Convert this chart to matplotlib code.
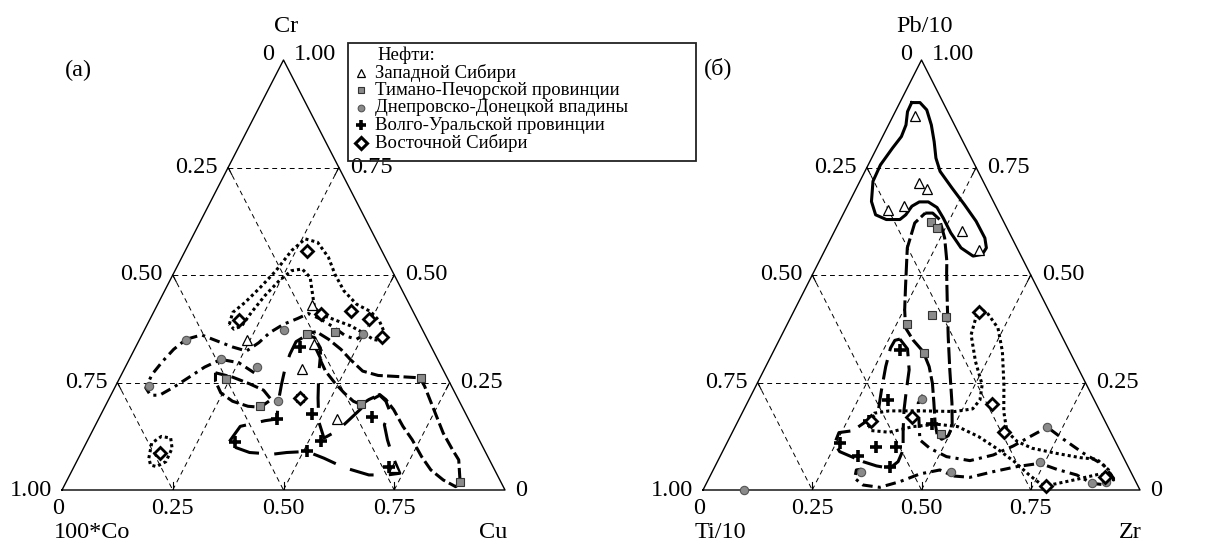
import matplotlib
matplotlib.use("Agg")
import matplotlib.pyplot as plt
from matplotlib.transforms import offset_copy
from matplotlib.patches import Rectangle

plt.rcParams['font.family'] = ['Liberation Serif', 'DejaVu Serif']

# ---- data: compositions as (bottom-right component, top component) ----
# (a) 100*Co - Cu - Cr : pairs are (Cu, Cr)
a_west = [(0.350, 0.430), (0.2435, 0.350), (0.399, 0.340), (0.401, 0.282), (0.539, 0.164), (0.722, 0.053)]
a_timan = [(0.372, 0.362), (0.433, 0.368), (0.241, 0.259), (0.349, 0.195), (0.574, 0.200), (0.679, 0.261),
           (0.890, 0.018), (0.430, 0.213)]
a_dnepr = [(0.314, 0.373), (0.499, 0.362), (0.105, 0.350), (0.206, 0.305), (0.297, 0.286), (0.077, 0.241),
           (0.385, 0.206)]
a_volga = [(0.370, 0.333), (0.475, 0.177), (0.4025, 0.165), (0.615, 0.169), (0.334, 0.111), (0.5275, 0.113),
           (0.507, 0.090), (0.7115, 0.053)]
a_east = [(0.275, 0.555), (0.202, 0.396), (0.379, 0.410), (0.443, 0.417), (0.495, 0.397), (0.545, 0.356),
          (0.430, 0.213), (0.178, 0.086)]

# (б) Ti/10 - Zr - Pb/10 : pairs are (Zr, Pb/10)
b_west = [(0.051, 0.870), (0.136, 0.715), (0.163, 0.700), (0.098, 0.652), (0.131, 0.660), (0.292, 0.603),
          (0.352, 0.559)]
b_timan = [(0.210, 0.6235), (0.231, 0.610), (0.274, 0.386), (0.320, 0.408), (0.355, 0.402), (0.347, 0.319),
           (0.479, 0.130)]
b_dnepr = [(0.395, 0.211), (0.342, 0.041), (0.545, 0.043), (0.740, 0.064), (0.715, 0.146), (0.882, 0.0155),
           (0.913, 0.019), (0.093, 0.0)]
b_volga = [(0.288, 0.3245), (0.319, 0.2096), (0.448, 0.154), (0.258, 0.110), (0.346, 0.101), (0.393, 0.099),
           (0.316, 0.078), (0.400, 0.054), (0.300, 0.161)]
b_east = [(0.424, 0.413), (0.562, 0.200), (0.620, 0.136), (0.780, 0.009), (0.393, 0.170), (0.303, 0.161),
          (0.906, 0.030)]

# ---- outlined fields ----
a_east_field = [(0.185, 0.3855), (0.179, 0.413), (0.195, 0.436), (0.212, 0.471), (0.228, 0.510), (0.240, 0.557),
                (0.257, 0.584), (0.289, 0.576), (0.331, 0.541), (0.365, 0.502), (0.405, 0.463), (0.449, 0.432),
                (0.489, 0.415), (0.520, 0.393), (0.545, 0.366), (0.547, 0.347), (0.528, 0.350), (0.496, 0.366),
                (0.460, 0.382), (0.426, 0.393), (0.384, 0.407), (0.358, 0.424), (0.333, 0.463), (0.313, 0.4945),
                (0.285, 0.514), (0.263, 0.510), (0.247, 0.487), (0.232, 0.452), (0.221, 0.413), (0.215, 0.3816),
                (0.201, 0.374)]
a_east_field2 = [(0.159, 0.074), (0.148, 0.109), (0.162, 0.1246), (0.185, 0.1207), (0.200, 0.097),
                 (0.2016, 0.066), (0.186, 0.0545), (0.171, 0.058)]
a_dnepr_line = [(0.2976, 0.2726), (0.251, 0.296), (0.207, 0.3037), (0.179, 0.2858), (0.156, 0.2625),
                (0.1325, 0.2391), (0.110, 0.2204), (0.0895, 0.2204), (0.0704, 0.2375), (0.0688, 0.2687),
                (0.0777, 0.2998), (0.0885, 0.3271), (0.105, 0.3505), (0.1347, 0.3606), (0.1767, 0.3466),
                (0.2187, 0.3326), (0.2548, 0.3232), (0.273, 0.3427), (0.286, 0.366), (0.3075, 0.3855),
                (0.3324, 0.3988), (0.351, 0.4104), (0.3857, 0.3972), (0.4226, 0.3793), (0.461, 0.3583),
                (0.4895, 0.3505), (0.500, 0.3598)]
a_timan_field = [(0.3647, 0.3621), (0.3896, 0.3684), (0.4265, 0.3505), (0.4661, 0.3271), (0.4988, 0.3037),
                 (0.5405, 0.2765), (0.5804, 0.2664), (0.638, 0.2632), (0.6775, 0.2609), (0.6978, 0.2414),
                 (0.746, 0.1869), (0.7943, 0.1324), (0.8348, 0.0935), (0.8605, 0.0701), (0.891, 0.0156),
                 (0.8846, 0.0078), (0.8488, 0.0234), (0.8092, 0.0467), (0.7726, 0.0779), (0.7322, 0.1168),
                 (0.6956, 0.148), (0.6552, 0.1869), (0.626, 0.2103), (0.6061, 0.222), (0.5875, 0.2103),
                 (0.5759, 0.1986), (0.5545, 0.2064), (0.5238, 0.2259), (0.4911, 0.2492), (0.4566, 0.2765),
                 (0.4344, 0.2998), (0.4174, 0.331), (0.3931, 0.3544)]
a_timan_field2 = [(0.2102, 0.2726), (0.2538, 0.2625), (0.300, 0.2469), (0.3389, 0.2321), (0.367, 0.2103),
                  (0.3517, 0.1924), (0.3225, 0.1947), (0.2818, 0.2064), (0.2455, 0.2259), (0.2199, 0.2531)]
a_volga_field = [(0.3215, 0.1129), (0.3284, 0.148), (0.3778, 0.1612), (0.4024, 0.1651), (0.3853, 0.2064),
                 (0.3728, 0.2453), (0.3617, 0.2843), (0.3566, 0.3154), (0.3558, 0.345), (0.3678, 0.3559),
                 (0.3955, 0.3427), (0.4291, 0.3076), (0.4451, 0.2687), (0.4709, 0.2142), (0.4996, 0.1597),
                 (0.531, 0.1207), (0.5534, 0.1386), (0.5751, 0.1791), (0.5895, 0.2064), (0.6069, 0.2204),
                 (0.6279, 0.2064), (0.652, 0.1791), (0.6517, 0.1519), (0.6762, 0.1168), (0.7042, 0.0818),
                 (0.7431, 0.0389), (0.7171, 0.035), (0.6752, 0.035), (0.6106, 0.0522), (0.5543, 0.074),
                 (0.508, 0.0896), (0.4637, 0.0872), (0.4342, 0.0833), (0.3798, 0.0872), (0.3425, 0.0989)]

b_west_field = [(0.027, 0.901), (0.046, 0.901), (0.070, 0.884), (0.098, 0.849), (0.124, 0.810), (0.147, 0.772),
                (0.172, 0.741), (0.219, 0.702), (0.266, 0.664), (0.3125, 0.625), (0.352, 0.586), (0.367, 0.563),
                (0.365, 0.548), (0.346, 0.544), (0.309, 0.563), (0.268, 0.598), (0.233, 0.633), (0.207, 0.657),
                (0.1805, 0.670), (0.160, 0.670), (0.148, 0.660), (0.144, 0.640), (0.136, 0.629), (0.105, 0.629),
                (0.075, 0.640), (0.050, 0.671), (0.030, 0.718), (0.028, 0.756), (0.036, 0.795), (0.043, 0.822),
                (0.040, 0.849), (0.028, 0.880)]
b_timan_field = [(0.1865, 0.644), (0.2036, 0.644), (0.227, 0.629), (0.260, 0.586), (0.292, 0.532), (0.305, 0.505),
                 (0.3415, 0.435), (0.3826, 0.357), (0.425, 0.2795), (0.4687, 0.202), (0.4965, 0.1475),
                 (0.498, 0.126), (0.487, 0.118), (0.472, 0.128), (0.4537, 0.155), (0.4274, 0.202), (0.401, 0.248),
                 (0.374, 0.287), (0.3427, 0.322), (0.306, 0.349), (0.275, 0.377), (0.252, 0.419), (0.2265, 0.474),
                 (0.186, 0.563), (0.174, 0.621)]
b_east_field = [(0.419, 0.423), (0.433, 0.361), (0.474, 0.299), (0.5165, 0.2446), (0.529, 0.2096),
                (0.5227, 0.1887), (0.485, 0.1825), (0.409, 0.184), (0.334, 0.184), (0.3026, 0.1786),
                (0.2944, 0.1607), (0.316, 0.1382), (0.359, 0.1343), (0.407, 0.1475), (0.4586, 0.153),
                (0.509, 0.1475), (0.5685, 0.1242), (0.623, 0.097), (0.6795, 0.066), (0.729, 0.035),
                (0.767, 0.0132), (0.7885, 0.0116), (0.837, 0.0233), (0.890, 0.0373), (0.928, 0.0233),
                (0.905, 0.0466), (0.8657, 0.0714), (0.825, 0.0753), (0.765, 0.0854), (0.705, 0.097),
                (0.663, 0.1126), (0.6275, 0.1359), (0.597, 0.1825), (0.5663, 0.2446), (0.524, 0.3222),
                (0.4867, 0.3766), (0.445, 0.4115)]
b_dnepr_line = [(0.393, 0.221), (0.3915, 0.202), (0.417, 0.155), (0.438, 0.1165), (0.4706, 0.097),
                (0.5185, 0.0776), (0.5767, 0.0683), (0.6236, 0.0815), (0.659, 0.1025), (0.6864, 0.1242),
                (0.715, 0.146), (0.7659, 0.118), (0.828, 0.0854), (0.8876, 0.0582), (0.926, 0.0272),
                (0.918, 0.0116), (0.882, 0.0155), (0.838, 0.0349), (0.7855, 0.0481), (0.740, 0.0621),
                (0.6907, 0.0543), (0.643, 0.0427), (0.5961, 0.0295), (0.5563, 0.0326), (0.5187, 0.0466),
                (0.4775, 0.0373), (0.4406, 0.0194), (0.4013, 0.0062), (0.3604, 0.0116), (0.3335, 0.0272),
                (0.3276, 0.0466), (0.3487, 0.0505)]
b_volga_field = [(0.275, 0.351), (0.304, 0.328), (0.332, 0.2795), (0.349, 0.233), (0.367, 0.186), (0.388, 0.140),
                 (0.4114, 0.093), (0.4135, 0.066), (0.402, 0.0505), (0.369, 0.056), (0.333, 0.066),
                 (0.3006, 0.0776), (0.268, 0.0893), (0.247, 0.1087), (0.2444, 0.1335), (0.274, 0.138),
                 (0.311, 0.1786), (0.292, 0.233), (0.2746, 0.287), (0.264, 0.330), (0.265, 0.348)]

groups = ['Западной Сибири', 'Тимано-Печорской провинции', 'Днепровско-Донецкой впадины',
          'Волго-Уральской провинции', 'Восточной Сибири']
tick_vals = [0.25, 0.50, 0.75]

styles = [
    dict(marker='^', ms=6.5, mfc='white', mec='black', mew=0.9),
    dict(marker='s', ms=6, mfc='#8a8a8a', mec='#333333', mew=0.8),
    dict(marker='o', ms=6, mfc='#8a8a8a', mec='#555555', mew=0.8),
    dict(marker='+', ms=8.5, mfc='none', mec='black', mew=2.6),
    dict(marker='D', ms=6.5, mfc='white', mec='black', mew=2.0),
]

LABEL_FS = 17.5


def tern(pts):
    return [b + c / 2 for b, c in pts], [c for b, c in pts]


def draw_field(ax, pts, dashes, closed=True, lw=2.2):
    p = list(pts) + ([pts[0]] if closed else [])
    x, y = tern(p)
    ln, = ax.plot(x, y, color='black', lw=lw, solid_joinstyle='round', zorder=3)
    if dashes is not None:
        ln.set_dashes(dashes)
    return ln


def setup_triangle(ax, fig, labels):
    ax.set_xlim(0, 1)
    ax.set_ylim(0, 1)
    ax.axis('off')
    x, y = tern([(0, 0), (1, 0), (0, 1), (0, 0)])
    ax.plot(x, y, color='black', lw=1.0, zorder=2, clip_on=False)
    for k in tick_vals:
        for seg in ([(0, k), (1 - k, k)], [(0, 1 - k), (1 - k, 0)], [(k, 0), (k, 1 - k)]):
            x, y = tern(seg)
            ax.plot(x, y, color='black', lw=0.7, dashes=(5, 4), zorder=1)
        # small ticks at the edges
        for seg in ([(k, 0), (k - 0.0093, 0.0186)], [(0, 1 - k), (0.0166, 1 - k - 0.0166)],
                    [(1 - k, k), (1 - k, k - 0.0166)]):
            x, y = tern(seg)
            ax.plot(x, y, color='black', lw=0.8, zorder=2)

    def lab(pt, s, dx, dy, ha, va='center'):
        tr = offset_copy(ax.transData, fig=fig, x=dx, y=-dy, units='dots')
        u, v = tern([pt])
        ax.text(u[0], v[0], s, transform=tr, ha=ha, va=va, fontsize=LABEL_FS, clip_on=False)

    top, left, right = labels
    lab((0, 1), '0', -9, -5, 'right')
    lab((0, 1), '1.00', 10, -5, 'left')
    lab((0, 1), top, 3, -34, 'center')
    for k in [0.25, 0.5, 0.75, 1.0]:
        lab((0, 1 - k), '%.2f' % k, -10, 0, 'right')
    for k in [0.75, 0.5, 0.25]:
        lab((1 - k, k), '%.2f' % k, 11, 0, 'left')
    lab((1, 0), '0', 10, 0, 'left')
    lab((0, 0), '0', -4, 19, 'center')
    for k in tick_vals:
        lab((k, 0), '%.2f' % k, 0, 19, 'center')
    lab((0, 0), left, -8, 43, 'left')
    lab((1, 0), right, 2, 43, 'right')


W, H = 1226, 544
fig = plt.figure(figsize=(W / 100, H / 100), dpi=100)
ax_a = fig.add_axes([62 / W, 54 / H, 443 / W, 430 / H])
ax_b = fig.add_axes([703 / W, 54 / H, 437 / W, 430 / H])

setup_triangle(ax_a, fig, ('Cr', '100*Co', 'Cu'))
setup_triangle(ax_b, fig, ('Pb/10', 'Ti/10', 'Zr'))

# fields (a)
draw_field(ax_a, a_east_field, (1.0, 1.0))
draw_field(ax_a, a_east_field2, (1.0, 1.0))
draw_field(ax_a, a_dnepr_line, (3.4, 1.7, 1.0, 1.7), closed=False)
draw_field(ax_a, a_timan_field, (4.0, 1.4))
draw_field(ax_a, a_timan_field2, (4.0, 1.4))
draw_field(ax_a, a_volga_field, (8.0, 5.0))

# fields (б)
draw_field(ax_b, b_west_field, None)
draw_field(ax_b, b_timan_field, (5.5, 1.3))
draw_field(ax_b, b_east_field, (1.0, 1.0))
draw_field(ax_b, b_dnepr_line, (3.4, 1.7, 1.0, 1.7), closed=False)
draw_field(ax_b, b_volga_field, (6.5, 3.0))

for ax, sets in ((ax_a, (a_west, a_timan, a_dnepr, a_volga, a_east)),
                 (ax_b, (b_west, b_timan, b_dnepr, b_volga, b_east))):
    for pts, st in zip(sets, styles):
        x, y = tern(pts)
        ax.plot(x, y, ls='none', zorder=4, clip_on=False, **st)

# legend and panel letters on a full-figure overlay (pixel coordinates)
ov = fig.add_axes([0, 0, 1, 1])
ov.set_xlim(0, W)
ov.set_ylim(H, 0)
ov.axis('off')
ov.add_patch(Rectangle((348, 43), 348, 118, fill=False, lw=1.3, ec='#222222'))
ov.text(377, 55, 'Нефти:', fontsize=13.5, va='center', ha='left')
for i, (g, st) in enumerate(zip(groups, styles)):
    yy = 72.5 + i * 17.6
    small = dict(st)
    small['ms'] = st['ms'] * 0.8
    if st['marker'] == 'D':
        small['ms'] = st['ms']
        small['mew'] = 2.2
    ov.plot([361], [yy], ls='none', **small)
    ov.text(375, yy, g, fontsize=13.5, va='center', ha='left')
ov.text(78, 70, '(а)', fontsize=LABEL_FS, ha='center', va='center')
ov.text(718, 68, '(б)', fontsize=LABEL_FS, ha='center', va='center')

fig.savefig('out.png', dpi=100)
